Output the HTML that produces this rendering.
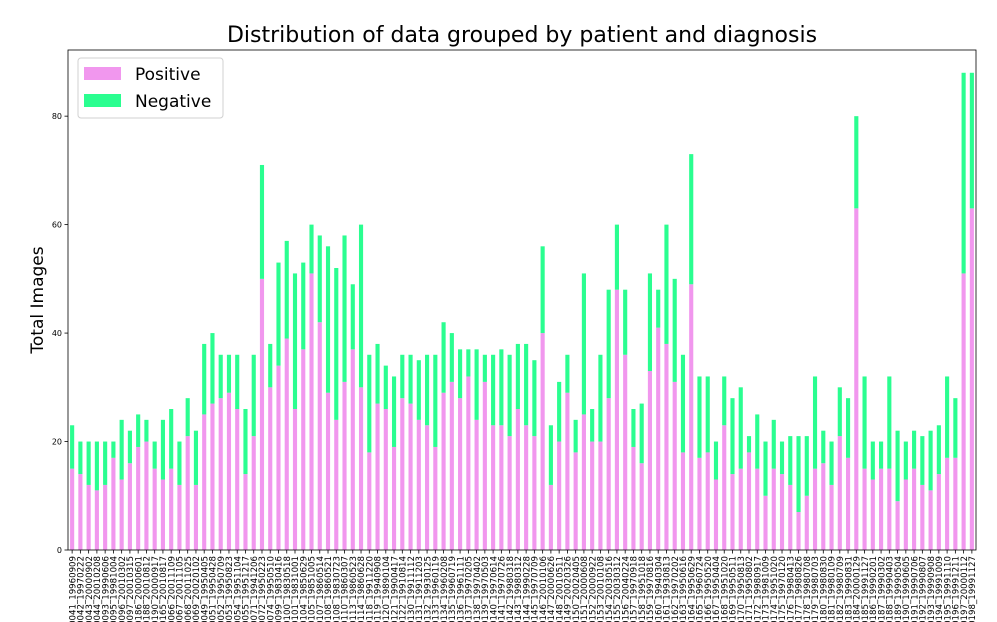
<!DOCTYPE html>
<html><head><meta charset="utf-8"><style>
html,body{margin:0;padding:0;background:#fff;width:997px;height:622px;overflow:hidden;font-family:"Liberation Sans","DejaVu Sans",sans-serif}
svg{display:block;overflow:hidden}
</style></head><body>
<svg id="chart" width="997" height="622" viewBox="0 0 997 622" xmlns="http://www.w3.org/2000/svg" font-family="DejaVu Sans, Liberation Sans, sans-serif">
<defs><clipPath id="frameClip"><rect x="0" y="0" width="997" height="622"/></clipPath></defs>
<text x="522" y="42" font-size="22" text-anchor="middle" fill="#000">Distribution of data grouped by patient and diagnosis</text>
<text transform="translate(43,300) rotate(-90)" font-size="17" text-anchor="middle" fill="#000">Total Images</text>
<g id="bars"></g><g id="axes"></g><g id="xlabels" clip-path="url(#frameClip)"></g>
<g>
<rect x="78" y="58" width="145" height="60" rx="3" fill="#fff" stroke="#d0d0d0"/>
<rect x="84" y="67" width="37" height="13" fill="#f197ee"/>
<text x="135" y="80" font-size="17">Positive</text>
<rect x="84" y="94" width="37" height="13" fill="#2afe90"/>
<text x="135" y="107" font-size="17">Negative</text>
</g>
</svg>
<script>
const positive=[15,14,12,11,12,17,13,16,19,20,15,13,15,12,21,12,25,27,28,29,26,14,21,50,30,34,39,26,37,51,42,29,24,31,37,30,18,27,26,19,28,27,24,23,19,29,31,28,32,24,31,23,23,21,26,23,21,40,12,20,29,18,25,20,20,28,48,36,19,16,33,41,38,31,18,49,17,18,13,23,14,15,18,15,10,15,14,12,7,10,15,16,12,21,17,63,15,13,15,15,9,13,15,12,11,14,17,17,51,63];
const total=[23,20,20,20,20,20,24,22,25,24,20,24,26,20,28,22,38,40,36,36,36,26,36,71,38,53,57,51,53,60,58,56,52,58,49,60,36,38,34,32,36,36,35,36,36,42,40,37,37,37,36,36,37,36,38,38,35,56,23,31,36,24,51,26,36,48,60,48,26,27,51,48,60,50,36,73,32,32,20,32,28,30,21,25,20,24,20,21,21,21,32,22,20,30,28,80,32,20,20,32,22,20,22,21,22,23,32,28,88,88];
const ids=["041","042","043","044","093","095","096","097","186","188","190","165","066","067","068","069","049","051","052","053","054","055","071","072","074","099","100","101","104","105","107","108","108","110","113","114","118","119","120","121","122","130","131","132","133","134","135","136","137","138","139","140","141","142","143","144","145","146","147","148","149","150","151","152","153","154","155","156","157","158","159","160","161","162","163","164","165","166","167","168","169","170","171","172","173","174","175","176","177","178","179","180","181","182","183","184","185","186","187","188","189","190","191","192","193","194","195","196","197","198"];
const dates=["19960909","19970222","20000902","20010208","19990606","19981004","20010302","20010315","20000601","20010812","20000917","20010817","20011109","20011105","20011025","20020102","19950405","19950428","19950709","19950823","19951104","19951217","19941206","19950223","19950510","19830416","19830518","19831001","19850629","19851005","19860514","19860521","19830723","19860307","19860523","19860628","19911220","19940908","19890104","19900417","19910814","19911112","19911203","19930125","19960119","19960208","19960719","19961111","19970205","19970402","19970503","19970614","19970726","19980318","19980312","19990228","19970709","20010106","20000626","20010511","20020326","20020405","20000608","20000922","20010108","20030516","20030312","20040224","19970918","19951018","19970816","19940304","19930813","19970202","19950616","19950629","19960724","19950520","19950404","19951020","19950511","19950813","19950802","19980917","19981009","19951020","19970120","19980413","19980826","19980708","19980703","19980830","19980109","19980709","19990831","20000129","19991127","19990201","19990302","19990403","19990504","19990605","19990706","19990807","19990908","19991009","19991110","19991211","20000112","19991127"];
const labels=ids.map((id,i)=>"0"+id+"_"+dates[i%dates.length]);
const X0=68,X1=976,Y0=550,Y1=50,YMAX=92.2;
const n=total.length, pitch=(X1-X0)/n;
const xc=i=>X0+pitch*(i+0.5);
const y=v=>Y0-(v/YMAX)*(Y0-Y1);
const NS="http://www.w3.org/2000/svg";
const bars=document.getElementById('bars'), axes=document.getElementById('axes'), xlabels=document.getElementById('xlabels');
function mk(tag,attrs,parent){const e=document.createElementNS(NS,tag);for(const k in attrs)e.setAttribute(k,attrs[k]);parent.appendChild(e);return e;}
const bw=pitch*0.5;
for(let i=0;i<n;i++){
  const p=mk('rect',{x:xc(i)-bw/2,y:y(positive[i]),width:bw,height:Y0-y(positive[i]),fill:'#f197ee'},bars);
  
  
  const g=mk('rect',{x:xc(i)-bw/2,y:y(total[i]),width:bw,height:y(positive[i])-y(total[i]),fill:'#2afe90'},bars);
  
  
  const t=mk('line',{x1:xc(i),x2:xc(i),y1:Y0,y2:Y0+3.5,stroke:'#000','stroke-width':0.8},axes);
  
  
  const lb=mk('text',{transform:`translate(${xc(i)+3.2},${Y0+6}) rotate(-90)`,'font-size':'8.6','text-anchor':'end',fill:'#000'},xlabels);
  lb.textContent=labels[i];
  
  
}
const yticks=[0,20,40,60,80];
yticks.forEach(v=>{
  const t=mk('line',{x1:X0-3.5,x2:X0,y1:y(v),y2:y(v),stroke:'#000','stroke-width':0.8},axes);
  
  
  const lb=mk('text',{x:X0-6,y:y(v)+3,'font-size':'8','text-anchor':'end',fill:'#000'},axes);
  lb.textContent=v;
  
  
});
const fr=mk('rect',{x:X0,y:Y1,width:X1-X0,height:Y0-Y1,fill:'none',stroke:'#000','stroke-width':0.8},axes);


</script>
</body></html>
